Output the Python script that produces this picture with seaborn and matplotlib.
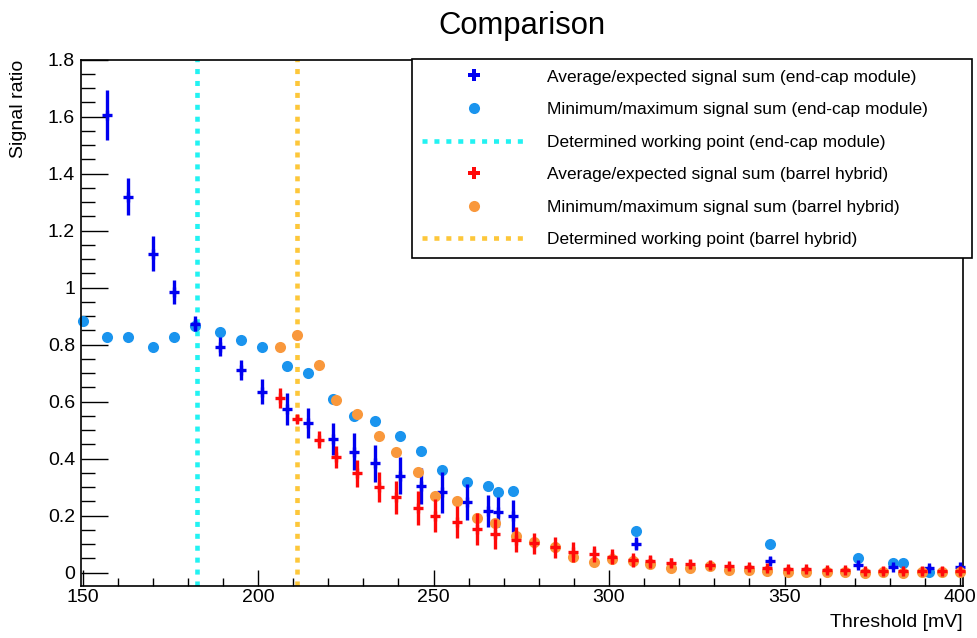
import numpy as np
import pandas as pd
import matplotlib
matplotlib.use("Agg")
import matplotlib.pyplot as plt
from matplotlib.lines import Line2D
from matplotlib.ticker import MultipleLocator, FuncFormatter
import seaborn as sns

# ---------------- data ----------------
ec_avg_x = [157.0, 163.0, 170.1, 176.1, 182.1, 189.1, 195.2, 201.1, 208.3, 214.2,
            221.5, 227.3, 233.4, 240.4, 246.5, 252.5, 259.4, 265.5, 268.5, 272.6,
            307.8, 345.9, 370.9, 381.0, 391.3, 400.0]
ec_avg_y = [1.606, 1.319, 1.120, 0.985, 0.873, 0.793, 0.711, 0.635, 0.573, 0.525,
            0.469, 0.425, 0.384, 0.340, 0.305, 0.282, 0.249, 0.218, 0.212, 0.198,
            0.101, 0.042, 0.028, 0.021, 0.018, 0.019]
ec_avg_err = [0.088, 0.065, 0.061, 0.043, 0.026, 0.033, 0.036, 0.043, 0.056, 0.054,
              0.056, 0.065, 0.064, 0.065, 0.064, 0.071, 0.063, 0.056, 0.053, 0.056,
              0.023, 0.012, 0.010, 0.008, 0.008, 0.008]

ec_mm_x = [150.1, 157.0, 163.0, 170.1, 176.1, 182.1, 189.1, 195.2, 201.2, 208.4,
           214.2, 221.5, 227.3, 233.4, 240.4, 246.5, 252.5, 259.4, 265.5, 268.5,
           272.6, 307.8, 345.9, 370.9, 381.0, 383.7, 391.3]
ec_mm_y = [0.882, 0.828, 0.828, 0.793, 0.828, 0.867, 0.843, 0.816, 0.793, 0.725,
           0.699, 0.609, 0.551, 0.531, 0.481, 0.426, 0.361, 0.317, 0.303, 0.284,
           0.288, 0.147, 0.101, 0.050, 0.034, 0.035, 0.003]

br_x = [206.2, 211.1, 217.4, 222.2, 228.2, 234.4, 239.4, 245.5, 250.4, 256.6,
        262.5, 267.5, 273.6, 278.7, 284.6, 289.6, 295.6, 300.9, 306.9, 311.6,
        317.7, 323.0, 328.9, 334.1, 339.8, 345.1, 351.0, 356.1, 362.0, 367.2,
        372.9, 378.0, 383.7, 389.1, 395.0, 400.0]
br_avg_y = [0.612, 0.539, 0.467, 0.405, 0.349, 0.302, 0.264, 0.227, 0.200, 0.177,
            0.153, 0.136, 0.116, 0.103, 0.089, 0.074, 0.065, 0.056, 0.044, 0.040,
            0.035, 0.032, 0.026, 0.022, 0.019, 0.015, 0.013, 0.012, 0.010, 0.008,
            0.007, 0.007, 0.006, 0.005, 0.005, 0.005]
br_avg_err = [0.035, 0.015, 0.030, 0.039, 0.047, 0.053, 0.057, 0.058, 0.057, 0.056,
              0.056, 0.053, 0.044, 0.038, 0.038, 0.035, 0.027, 0.027, 0.024, 0.023,
              0.016, 0.014, 0.012, 0.012, 0.011, 0.010, 0.010, 0.010, 0.010, 0.010,
              0.010, 0.010, 0.010, 0.010, 0.010, 0.010]
br_mm_y = [0.793, 0.835, 0.730, 0.607, 0.557, 0.481, 0.425, 0.354, 0.270, 0.250,
           0.191, 0.174, 0.130, 0.106, 0.091, 0.056, 0.036, 0.048, 0.040, 0.030,
           0.015, 0.015, 0.022, 0.009, 0.009, 0.007, 0.001, 0.003, 0.002, 0.002,
           0.000, 0.002, 0.000, 0.001, 0.002, 0.002]

wp_endcap = 182.5
wp_barrel = 211.2

labels = ["Average/expected signal sum (end-cap module)",
          "Minimum/maximum signal sum (end-cap module)",
          "Determined working point (end-cap module)",
          "Average/expected signal sum (barrel hybrid)",
          "Minimum/maximum signal sum (barrel hybrid)",
          "Determined working point (barrel hybrid)"]

C_BLUE = "#0000F0"
C_LBLUE = "#1A94EE"
C_CYAN = "#22F2F2"
C_RED = "#FF0A0A"
C_ORANGE = "#F9983C"
C_YELLOW = "#FDC73A"

df_ec_mm = pd.DataFrame({"threshold": ec_mm_x, "ratio": ec_mm_y})
df_br_mm = pd.DataFrame({"threshold": br_x, "ratio": br_mm_y})

# ---------------- style ----------------
sns.set_theme(style="white")
plt.rcParams["font.family"] = ["Liberation Sans", "DejaVu Sans"]
plt.rcParams["text.color"] = "black"
plt.rcParams["axes.labelcolor"] = "black"
plt.rcParams["xtick.color"] = "black"
plt.rcParams["ytick.color"] = "black"

fig = plt.figure(figsize=(9.78, 6.38), dpi=100)
ax = fig.add_axes([81 / 978, 1 - 585.7 / 638, 882 / 978, 526 / 638])

dash = (0, (1.1, 1.5))
ax.axvline(wp_endcap, color=C_CYAN, lw=3.3, linestyle=dash, dash_capstyle="butt", zorder=1)
ax.axvline(wp_barrel, color=C_YELLOW, lw=3.3, linestyle=dash, dash_capstyle="butt", zorder=1)

sns.scatterplot(data=df_ec_mm, x="threshold", y="ratio", ax=ax, color=C_LBLUE,
                s=64, linewidth=0, zorder=2, clip_on=False, legend=False)
ax.errorbar(ec_avg_x, ec_avg_y, yerr=ec_avg_err, fmt="+", color=C_BLUE,
            ms=7.4, mew=2.4, elinewidth=2.4, capsize=0, zorder=3, clip_on=False)
sns.scatterplot(data=df_br_mm, x="threshold", y="ratio", ax=ax, color=C_ORANGE,
                s=64, linewidth=0, zorder=4, clip_on=False, legend=False)
ax.errorbar(br_x, br_avg_y, yerr=br_avg_err, fmt="+", color=C_RED,
            ms=7.4, mew=2.4, elinewidth=2.4, capsize=0, zorder=5, clip_on=False)

ax.set_xlim(149.57, 400.85)
ax.set_ylim(-0.0456, 1.8)

ax.xaxis.set_major_locator(MultipleLocator(50))
ax.xaxis.set_minor_locator(MultipleLocator(10))
ax.yaxis.set_major_locator(MultipleLocator(0.2))
ax.yaxis.set_minor_locator(MultipleLocator(0.05))
ax.yaxis.set_major_formatter(FuncFormatter(lambda v, p: f"{v:g}"))
ax.xaxis.set_major_formatter(FuncFormatter(lambda v, p: f"{v:g}"))

ax.tick_params(axis="both", which="both", direction="in", color="black",
               labelcolor="black",
               bottom=True, left=True, top=False, right=False, labelsize=14, width=1.0)
ax.tick_params(axis="y", which="major", length=19.2, pad=4.3)
ax.tick_params(axis="y", which="minor", length=10)
ax.tick_params(axis="x", which="major", length=11.5, pad=2.5)
ax.tick_params(axis="x", which="minor", length=5.8)

for s in ax.spines.values():
    s.set_color("black")
    s.set_linewidth(1.2)
    s.set_visible(True)

ax.set_title("Comparison", fontsize=22.3, pad=18.8, color="black")
ax.set_ylabel("Signal ratio", fontsize=14, loc="top", color="black")
ax.yaxis.set_label_coords(-0.0612, 1.0)
ax.set_xlabel("Threshold [mV]", fontsize=14, loc="right", color="black")
ax.xaxis.set_label_coords(1.0, -0.054)

handles = [
    Line2D([], [], linestyle="none", marker="P", color=C_BLUE, ms=8, mew=0),
    Line2D([], [], linestyle="none", marker="o", color=C_LBLUE, ms=8, mew=0),
    Line2D([], [], color=C_CYAN, lw=3.3, linestyle=dash, dash_capstyle="butt"),
    Line2D([], [], linestyle="none", marker="P", color=C_RED, ms=8, mew=0),
    Line2D([], [], linestyle="none", marker="o", color=C_ORANGE, ms=8, mew=0),
    Line2D([], [], color=C_YELLOW, lw=3.3, linestyle=dash, dash_capstyle="butt"),
]
x0 = 412 / 978
y1 = 1 - 59 / 638
w = 560 / 978
leg = ax.legend(handles, labels, loc="upper left",
                bbox_to_anchor=(x0, y1 - 0.3, w, 0.3), bbox_transform=fig.transFigure,
                mode="expand", borderaxespad=0, fontsize=12.5, frameon=True,
                fancybox=False, shadow=False, edgecolor="black", framealpha=1,
                borderpad=0.6, labelspacing=1.0, handlelength=6.0,
                handletextpad=1.2)
leg.get_frame().set_linewidth(1.2)
for t in leg.get_texts():
    t.set_color("black")

fig.savefig("out.png", dpi=100, facecolor="white")
